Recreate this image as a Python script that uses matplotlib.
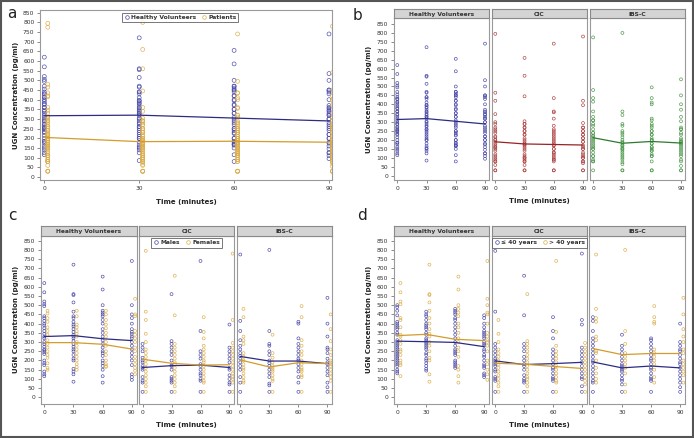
import numpy as np
import matplotlib
matplotlib.use("Agg")
import matplotlib.pyplot as plt
from matplotlib.lines import Line2D
from matplotlib.patches import Rectangle

# tiempos de muestreo
tiempos = [0, 30, 60, 90]
grupos = ["Healthy Volunteers", "CIC", "IBS-C"]

# --- valores por sexo (panel c), por grupo y tiempo ---
hv_hombres = [
    [620, 570, 520, 505, 495, 440, 430, 415, 400, 390, 375, 360, 345, 330, 320, 300, 290, 275, 260, 255, 245, 235, 200, 185, 175, 140, 125, 115],
    [720, 560, 555, 515, 465, 440, 430, 410, 395, 385, 370, 355, 340, 330, 320, 305, 290, 275, 260, 250, 230, 210, 200, 155, 140, 125, 85],
    [655, 585, 500, 470, 460, 450, 440, 420, 400, 370, 350, 330, 310, 290, 270, 250, 240, 225, 200, 185, 170, 150, 115, 80],
    [740, 500, 450, 430, 400, 370, 355, 345, 330, 320, 300, 280, 260, 240, 220, 200, 175, 125, 110, 95],
]
hv_mujeres = [
    [470, 455, 430, 410, 380, 360, 340, 310, 290, 270, 250, 230, 215, 185, 160, 150],
    [470, 440, 395, 380, 360, 345, 330, 300, 280, 260, 240, 220, 200, 180, 165, 150],
    [470, 450, 420, 395, 375, 350, 330, 300, 280, 250, 230, 200, 180, 170, 165],
    [535, 450, 440, 360, 340, 320, 300, 270, 250, 220, 200, 180, 160, 145, 125],
]
cic_hombres = [
    [290, 270, 250, 215, 200, 190, 170, 160, 150, 110, 90, 80, 30],
    [560, 305, 290, 270, 250, 230, 200, 175, 170, 150, 110, 100, 90, 80, 30],
    [740, 360, 250, 230, 210, 180, 170, 150, 130, 120, 100, 90, 30],
    [395, 270, 250, 230, 210, 190, 160, 150, 120, 100, 80, 70, 30],
]
cic_mujeres = [
    [795, 465, 420, 345, 300, 260, 240, 220, 200, 180, 160, 140, 120, 100, 80, 60, 30],
    [660, 445, 290, 270, 250, 230, 210, 190, 180, 160, 140, 120, 100, 80, 60, 30],
    [435, 355, 320, 280, 260, 240, 220, 200, 190, 170, 150, 130, 110, 90, 80, 30],
    [780, 420, 295, 270, 250, 230, 210, 190, 170, 150, 130, 110, 100, 80, 30],
]
ibs_hombres = [
    [775, 415, 360, 310, 280, 260, 240, 225, 210, 190, 170, 150, 110, 80, 30],
    [800, 360, 290, 280, 250, 230, 200, 185, 170, 150, 130, 110, 75, 65, 30],
    [410, 400, 320, 290, 270, 250, 230, 210, 200, 180, 160, 140, 110, 80, 30],
    [540, 400, 330, 270, 260, 240, 210, 190, 180, 160, 140, 120, 80, 55, 30],
]
ibs_mujeres = [
    [480, 435, 330, 310, 290, 240, 220, 200, 180, 160, 150, 130, 110, 90, 80],
    [340, 240, 215, 190, 170, 160, 150, 140, 120, 100, 90, 30],
    [495, 435, 310, 280, 250, 230, 200, 180, 160, 150, 140, 120, 110, 30],
    [450, 370, 305, 260, 230, 200, 190, 180, 170, 150, 130, 110, 90, 30],
]

# --- valores por edad (panel d) ---
hv_jovenes = [
    [500, 490, 470, 445, 410, 400, 390, 380, 370, 350, 340, 310, 300, 290, 280, 270, 260, 250, 240, 230, 220, 210, 200, 190, 180, 170, 150, 140, 130],
    [465, 450, 440, 420, 400, 390, 380, 370, 350, 340, 320, 310, 300, 290, 280, 270, 260, 240, 230, 210, 200, 185, 170, 155, 145],
    [480, 470, 460, 450, 430, 420, 400, 380, 360, 340, 320, 300, 280, 260, 250, 240, 230, 200, 190, 180, 170, 160],
    [445, 430, 400, 380, 360, 350, 340, 330, 320, 300, 290, 280, 260, 250, 230, 220, 200, 180, 170, 160, 130, 120, 110],
]
hv_mayores = [
    [620, 570, 520, 505, 430, 420, 380, 340, 330, 310, 290, 260, 250, 230, 200, 185, 175, 115],
    [720, 560, 555, 515, 470, 430, 400, 370, 345, 330, 300, 280, 250, 215, 200, 125, 85],
    [655, 585, 500, 480, 460, 440, 400, 380, 350, 320, 300, 270, 250, 220, 170, 150, 115, 80],
    [740, 535, 500, 460, 450, 400, 350, 330, 310, 300, 280, 250, 200, 180, 150, 125, 95],
]
cic_jovenes = [
    [795, 465, 290, 270, 250, 230, 210, 200, 190, 180, 170, 150, 140, 110, 100, 90, 30],
    [660, 445, 290, 270, 250, 220, 200, 180, 170, 150, 120, 100, 90, 80, 30],
    [435, 360, 320, 260, 240, 220, 200, 180, 160, 150, 130, 110, 100, 90, 30],
    [780, 420, 395, 270, 250, 230, 210, 190, 170, 150, 130, 110, 100, 60, 30],
]
cic_mayores = [
    [420, 345, 300, 260, 240, 220, 200, 180, 160, 140, 120, 100, 80, 60, 30],
    [560, 305, 290, 270, 250, 230, 210, 190, 170, 150, 130, 110, 100, 80, 60, 30],
    [740, 355, 280, 250, 230, 210, 190, 170, 150, 130, 110, 90, 80, 30],
    [295, 270, 250, 230, 210, 190, 170, 150, 130, 110, 90, 70, 30],
]
ibs_jovenes = [
    [435, 415, 360, 320, 300, 280, 260, 240, 220, 200, 190, 170, 150, 130, 110, 90, 80, 30],
    [340, 280, 260, 240, 220, 200, 180, 170, 160, 150, 140, 120, 100, 90, 70, 30],
    [320, 310, 290, 270, 250, 230, 210, 200, 180, 160, 150, 130, 110, 100, 90, 30],
    [400, 300, 280, 260, 250, 230, 210, 190, 180, 160, 140, 120, 100, 80, 55, 30],
]
ibs_mayores = [
    [775, 480, 430, 410, 330, 310, 250, 240, 200, 160, 130, 100, 80],
    [800, 360, 290, 240, 220, 200, 180, 160, 130, 70, 30],
    [495, 435, 410, 400, 260, 240, 220, 200, 180, 150, 110, 80],
    [540, 450, 370, 330, 300, 260, 240, 200, 180, 160, 140, 120, 80],
]

# --- medias (lineas) ---
media_a_hv = [317, 320, 305, 290]
media_a_pac = [205, 183, 185, 180]
media_b = {"Healthy Volunteers": [315, 320, 305, 290], "CIC": [190, 178, 175, 172], "IBS-C": [213, 182, 192, 183]}
media_c_h = {"Healthy Volunteers": [330, 335, 318, 308], "CIC": [162, 172, 175, 162], "IBS-C": [222, 197, 197, 183]}
media_c_m = {"Healthy Volunteers": [297, 297, 288, 262], "CIC": [207, 185, 175, 177], "IBS-C": [203, 165, 188, 183]}
media_d_j = {"Healthy Volunteers": [305, 302, 298, 275], "CIC": [198, 178, 183, 190], "IBS-C": [192, 160, 170, 160]}
media_d_m = {"Healthy Volunteers": [335, 342, 315, 308], "CIC": [185, 180, 168, 157], "IBS-C": [265, 232, 238, 238]}

sexo_h = {"Healthy Volunteers": hv_hombres, "CIC": cic_hombres, "IBS-C": ibs_hombres}
sexo_m = {"Healthy Volunteers": hv_mujeres, "CIC": cic_mujeres, "IBS-C": ibs_mujeres}
edad_j = {"Healthy Volunteers": hv_jovenes, "CIC": cic_jovenes, "IBS-C": ibs_jovenes}
edad_m = {"Healthy Volunteers": hv_mayores, "CIC": cic_mayores, "IBS-C": ibs_mayores}

azul = "#4646a8"
azul_l = "#2c2c84"
naranja = "#dcad4a"
naranja_l = "#d39c2c"
colores_b = {"Healthy Volunteers": ("#4646a8", "#2c2c84"), "CIC": ("#ad3c3c", "#962424"), "IBS-C": ("#469646", "#2e7a2e")}

W, H = 694, 438
fig = plt.figure(figsize=(W / 100, H / 100), dpi=100)
fig.patch.set_facecolor("white")


def ejes_px(l, t, r, b):
    return fig.add_axes([l / W, 1 - b / H, (r - l) / W, (b - t) / H])


def estilo(ax, ylim, xlim, con_y):
    ax.set_xlim(*xlim)
    ax.set_ylim(*ylim)
    for s in ax.spines.values():
        s.set_color("#9a9a9a")
        s.set_linewidth(0.8)
    ax.set_xticks(tiempos)
    ax.set_yticks(np.arange(0, 851, 50))
    ax.tick_params(length=2.5, width=0.6, color="#777777", labelsize=4.3, labelcolor="#333333", pad=1.5)
    if not con_y:
        ax.tick_params(axis="y", left=False, labelleft=False)


def puntos(ax, dx, listas, color, s=4.5):
    for t, vals in zip(tiempos, listas):
        ax.scatter(np.full(len(vals), t + dx), vals, s=s, facecolors="none",
                   edgecolors=color, linewidths=0.45, zorder=3)


def cabecera(l, t, r, b, texto):
    cab = ejes_px(l, t, r, b)
    cab.set_facecolor("#d4d4d4")
    cab.set_xticks([])
    cab.set_yticks([])
    for s in cab.spines.values():
        s.set_color("#8a8a8a")
        s.set_linewidth(0.8)
    cab.text(0.5, 0.45, texto, ha="center", va="center", fontsize=4.3,
             fontweight="bold", color="#333333", transform=cab.transAxes)


def leyenda(ax, etiquetas, colores, x, y):
    marcas = [Line2D([], [], ls="none", marker="o", ms=2.6, mfc="none", mec=c, mew=0.5) for c in colores]
    lg = ax.legend(marcas, etiquetas, loc="upper center", bbox_to_anchor=(x, y), ncol=2,
                   fontsize=4.3, frameon=True, fancybox=False, handletextpad=0.2,
                   columnspacing=0.8, borderpad=0.35, handlelength=1.0, borderaxespad=0)
    lg.get_frame().set_edgecolor("#555555")
    lg.get_frame().set_linewidth(0.7)
    for t in lg.get_texts():
        t.set_color("#333333")
        t.set_fontweight("bold")


etiq_y = "UGN Concentration (pg/ml)"
etiq_x = "Time (minutes)"

# ---------------- panel a ----------------
ax = ejes_px(40, 10, 332, 180)
estilo(ax, (-15.5, 864), (-1.36, 90.95), True)
puntos(ax, 0, [hv_hombres[i] + hv_mujeres[i] for i in range(4)], azul, s=8)
pacientes = [cic_hombres[i] + cic_mujeres[i] + ibs_hombres[i] + ibs_mujeres[i] for i in range(4)]
puntos(ax, 1.1, pacientes, naranja, s=8)
ax.plot(tiempos, media_a_hv, color=azul_l, lw=0.9, zorder=4)
ax.plot(tiempos, media_a_pac, color=naranja_l, lw=0.9, zorder=4)
ax.set_ylabel(etiq_y, fontsize=5, fontweight="bold", color="#222222", labelpad=3)
ax.set_xlabel(etiq_x, fontsize=5, fontweight="bold", color="#222222", labelpad=6)
leyenda(ax, ["Healthy Volunteers", "Patients"], [azul, naranja], 0.48, 0.985)

# ---------------- panel b ----------------
cols_b = [(393.7, 489), (491.7, 587), (589.5, 685)]
for k, (g, (l, r)) in enumerate(zip(grupos, cols_b)):
    ax = ejes_px(l, 18.3, r, 180)
    estilo(ax, (-24, 882), (-3.7, 94.1), k == 0)
    cm, cl = colores_b[g]
    puntos(ax, 0, [sexo_h[g][i] + sexo_m[g][i] for i in range(4)], cm)
    ax.plot(tiempos, media_b[g], color=cl, lw=0.9, zorder=4)
    cabecera(l, 9, r, 18.3, g)
    if k == 0:
        ax.set_ylabel(etiq_y, fontsize=5, fontweight="bold", color="#222222", labelpad=3)
    if k == 1:
        ax.set_xlabel(etiq_x, fontsize=5, fontweight="bold", color="#222222", labelpad=5)

# ---------------- panel c y d ----------------
cols_c = [(40.7, 136.7), (139, 234.3), (236.7, 332.3)]
cols_d = [(393.7, 489), (491.7, 586.7), (589.3, 685)]
for cols, d1, d2, m1, m2, ley in [
    (cols_c, sexo_h, sexo_m, media_c_h, media_c_m, ["Males", "Females"]),
    (cols_d, edad_j, edad_m, media_d_j, media_d_m, ["\u2264 40 years", "> 40 years"]),
]:
    for k, (g, (l, r)) in enumerate(zip(grupos, cols)):
        ax = ejes_px(l, 235.7, r, 404)
        estilo(ax, (-36, 877), (-3.7, 95), k == 0)
        puntos(ax, 0, d1[g], azul)
        puntos(ax, 3.3, d2[g], naranja)
        ax.plot(tiempos, m1[g], color=azul_l, lw=0.9, zorder=4)
        ax.plot(tiempos, m2[g], color=naranja_l, lw=0.9, zorder=4)
        cabecera(l, 226.3, r, 235.7, g)
        if k == 0:
            ax.set_ylabel(etiq_y, fontsize=5, fontweight="bold", color="#222222", labelpad=3)
        if k == 1:
            ax.set_xlabel(etiq_x, fontsize=5, fontweight="bold", color="#222222", labelpad=5)
            leyenda(ax, ley, [azul, naranja], 0.5, 0.985)

# letras de panel
for letra, x, y in [("a", 12, 14), ("b", 358, 16), ("c", 12, 215), ("d", 362, 216)]:
    fig.text(x / W, 1 - y / H, letra, fontsize=11, color="#222222", ha="center", va="center")

# marco exterior
fig.patches.append(Rectangle((0.001, 0.002), 0.998, 0.996, transform=fig.transFigure,
                             fill=False, edgecolor="#555555", lw=1.5))

fig.savefig("out.png", dpi=100)
